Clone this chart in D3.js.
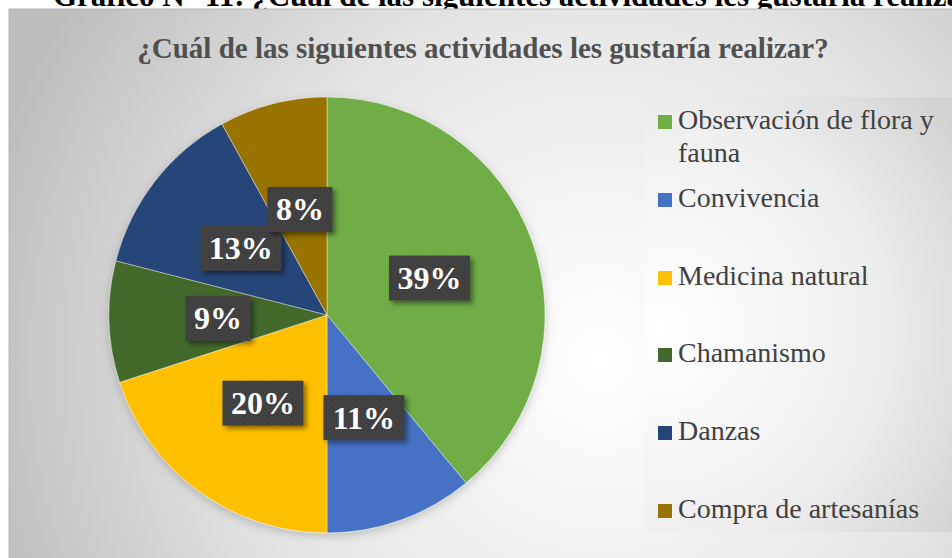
<!DOCTYPE html>
<html>
<head>
<meta charset="utf-8">
<script src="https://d3js.org/d3.v7.min.js"></script>
<style>
html, body { margin: 0; padding: 0; background: #fff; }
svg { display: block; font-family: "Liberation Serif", "Times New Roman", serif; }
</style>
</head>
<body>
<script>
// datos del grafico
var categories = ["Observación de flora y fauna", "Convivencia", "Medicina natural", "Chamanismo", "Danzas", "Compra de artesanías"];
var values = [39, 11, 20, 9, 13, 8];
var colors = ["#70AD47", "#4472C4", "#FFC000", "#43682B", "#264478", "#997300"];
var legendLines = [["Observación de flora y", "fauna"], ["Convivencia"], ["Medicina natural"], ["Chamanismo"], ["Danzas"], ["Compra de artesanías"]];
var heading = "Gráfico N° 11: ¿Cuál de las siguientes actividades les gustaría realizar?";
var chartTitle = "¿Cuál de las siguientes actividades les gustaría realizar?";

var width = 952, height = 558;
var cx = 327, cy = 315, radius = 218;

var svg = d3.select("body").append("svg")
  .attr("width", width)
  .attr("height", height);

var defs = svg.append("defs");

// fondo con degradado radial
var bg = defs.append("radialGradient").attr("id", "bgGrad")
  .attr("gradientUnits", "userSpaceOnUse")
  .attr("cx", 600).attr("cy", 360).attr("r", 640);
bg.append("stop").attr("offset", "0%").attr("stop-color", "#ffffff");
bg.append("stop").attr("offset", "55%").attr("stop-color", "#e6e6e6");
bg.append("stop").attr("offset", "100%").attr("stop-color", "#bdbdbd");

var lg = defs.append("radialGradient").attr("id", "legGrad")
  .attr("gradientUnits", "userSpaceOnUse")
  .attr("cx", 660).attr("cy", 330).attr("r", 360);
lg.append("stop").attr("offset", "0%").attr("stop-color", "#ffffff");
lg.append("stop").attr("offset", "60%").attr("stop-color", "#eeeeee");
lg.append("stop").attr("offset", "100%").attr("stop-color", "#d2d2d2");

// patron de puntos de las etiquetas
var pat = defs.append("pattern").attr("id", "dots")
  .attr("patternUnits", "userSpaceOnUse")
  .attr("width", 6).attr("height", 6);
pat.append("rect").attr("width", 6).attr("height", 6).attr("fill", "#404040");
pat.append("rect").attr("x", 1).attr("y", 1).attr("width", 1).attr("height", 1).attr("fill", "#555");
pat.append("rect").attr("x", 4).attr("y", 4).attr("width", 1).attr("height", 1).attr("fill", "#4b4b4b");

var sh = defs.append("filter").attr("id", "shadow")
  .attr("x", "-30%").attr("y", "-30%").attr("width", "160%").attr("height", "160%");
sh.append("feDropShadow").attr("dx", 3).attr("dy", 3).attr("stdDeviation", 2.5)
  .attr("flood-color", "#000").attr("flood-opacity", 0.45);

var pieSh = defs.append("filter").attr("id", "pieShadow")
  .attr("x", "-20%").attr("y", "-20%").attr("width", "140%").attr("height", "140%");
pieSh.append("feDropShadow").attr("dx", 0).attr("dy", 3).attr("stdDeviation", 5)
  .attr("flood-color", "#000").attr("flood-opacity", 0.2);

// encabezado cortado arriba (asi aparece en la imagen)
svg.append("text")
  .attr("x", 53).attr("y", 6)
  .attr("font-size", 31).attr("font-weight", "bold").attr("fill", "#000")
  .text(heading);

// caja del grafico
svg.append("rect")
  .attr("x", 9).attr("y", 9)
  .attr("width", width).attr("height", height)
  .attr("fill", "url(#bgGrad)")
  .attr("stroke", "#b5b5b5").attr("stroke-width", 1);

svg.append("rect")
  .attr("x", 645).attr("y", 97)
  .attr("width", width - 645).attr("height", 435)
  .attr("fill", "url(#legGrad)");

svg.append("text")
  .attr("x", 483).attr("y", 58)
  .attr("text-anchor", "middle")
  .attr("font-size", 29).attr("font-weight", "bold").attr("fill", "#505050")
  .text(chartTitle);

// pie
var pie = d3.pie().sort(null).value(function(d) { return d; });
var arc = d3.arc().innerRadius(0).outerRadius(radius);
var arcs = pie(values);

var g = svg.append("g").attr("transform", "translate(" + cx + "," + cy + ")");

g.append("g").attr("filter", "url(#pieShadow)")
  .selectAll("path")
  .data(arcs)
  .enter().append("path")
  .attr("d", arc)
  .attr("fill", function(d, i) { return colors[i]; })
  .attr("stroke", "#ffffff").attr("stroke-width", 0.4);

// etiquetas de porcentaje
var lab = g.selectAll(".lab")
  .data(arcs)
  .enter().append("g")
  .attr("class", "lab")
  .attr("transform", function(d) { return "translate(" + arc.centroid(d) + ")"; });

lab.each(function(d) {
  var el = d3.select(this);
  var txt = d.data + "%";
  var w = txt.length === 3 ? 81 : 65, h = 45;
  el.append("rect")
    .attr("x", -w / 2).attr("y", -h / 2)
    .attr("width", w).attr("height", h)
    .attr("fill", "url(#dots)")
    .attr("filter", "url(#shadow)");
  el.append("text")
    .attr("text-anchor", "middle")
    .attr("y", 11)
    .attr("font-size", 32).attr("font-weight", "bold").attr("fill", "#ffffff")
    .text(txt);
});

// leyenda
var legendY = [129, 207, 285, 362, 440, 518];
var leg = svg.selectAll(".leg")
  .data(categories)
  .enter().append("g")
  .attr("class", "leg")
  .attr("transform", function(d, i) { return "translate(658," + legendY[i] + ")"; });

leg.append("rect")
  .attr("x", 0).attr("y", -14)
  .attr("width", 14).attr("height", 14)
  .attr("fill", function(d, i) { return colors[i]; });

leg.append("text")
  .attr("x", 20)
  .attr("font-size", 28).attr("fill", "#404040")
  .each(function(d, i) {
    var t = d3.select(this);
    legendLines[i].forEach(function(line, j) {
      t.append("tspan").attr("x", 20).attr("dy", j === 0 ? 0 : 32.5).text(line);
    });
  });
</script>
</body>
</html>
